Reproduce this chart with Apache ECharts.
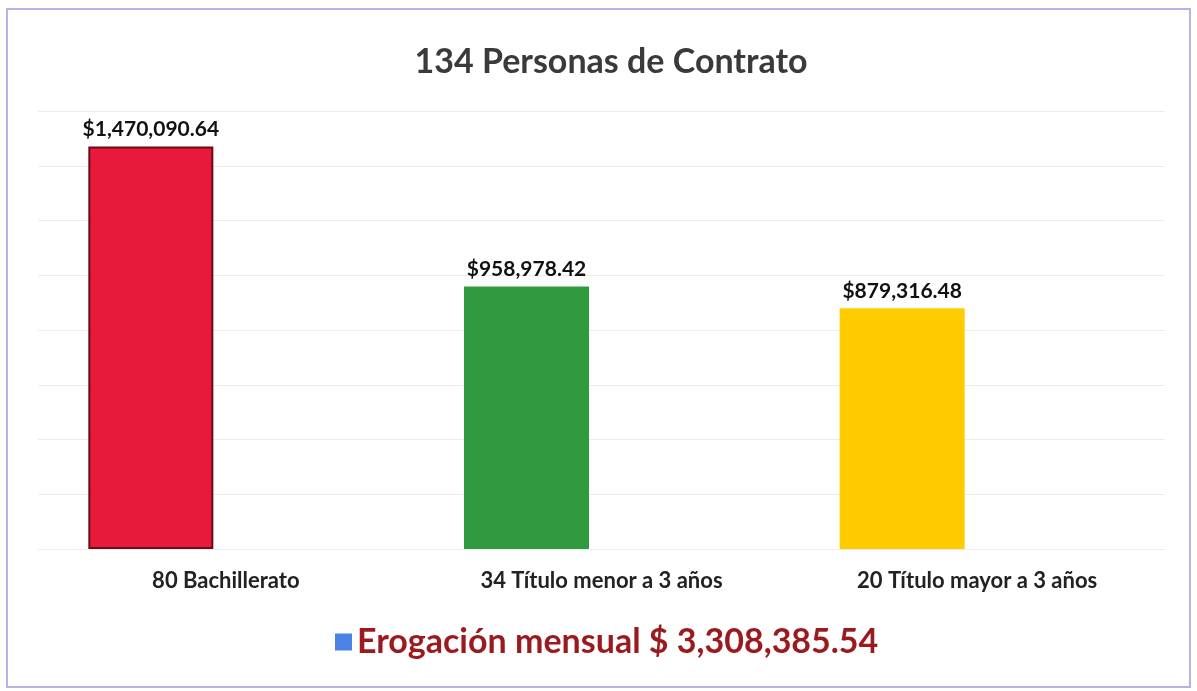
<!DOCTYPE html>
<html>
<head>
<meta charset="utf-8">
<script src="https://cdn.jsdelivr.net/npm/echarts@6/dist/echarts.min.js"></script>
<style>
  html, body { margin: 0; padding: 0; background: #fff; }
  #chart { width: 1197px; height: 691px; }
</style>
</head>
<body>
<div id="chart"></div>
<script>
var categories = ['80 Bachillerato', '34 Título menor a 3 años', '20 Título mayor a 3 años'];
var montos = [1470090.64, 958978.42, 879316.48];
var colores = ['#e8193b', '#2f9a3e', '#ffcc00'];
var serieNombre = 'Erogación mensual $ 3,308,385.54';

var chart = echarts.init(document.getElementById('chart'));

function formatoMoneda(v) {
    return '$' + v.toLocaleString('en-US', { minimumFractionDigits: 2, maximumFractionDigits: 2 });
}

var option = {
    backgroundColor: '#fff',
    textStyle: { fontFamily: 'Lato' },
    title: {
        text: '134 Personas de Contrato',
        top: 40,
        left: 606,
        textAlign: 'center',
        textStyle: { fontSize: 34, fontWeight: 'bold', color: '#3a3a3a', fontFamily: 'Lato' }
    },
    legend: {
        data: [serieNombre],
        top: 620,
        left: 330,
        icon: 'rect',
        itemWidth: 17,
        itemHeight: 17,
        itemGap: 10,
        textStyle: { fontSize: 34, fontWeight: 'bold', color: '#9a1a1e', fontFamily: 'Lato' }
    },
    grid: {
        left: 38,
        right: 32,
        top: 111,
        bottom: 142
    },
    xAxis: {
        type: 'category',
        data: categories,
        axisLine: { show: false },
        axisTick: { show: false },
        axisLabel: { margin: 21, fontSize: 22, color: '#222', fontWeight: 'bold' }
    },
    yAxis: {
        type: 'value',
        min: 0,
        max: 1600000,
        interval: 200000,
        axisLabel: { show: false },
        axisLine: { show: false },
        axisTick: { show: false },
        splitLine: { lineStyle: { color: '#ececec', width: 1 } }
    },
    graphic: [{
        type: 'rect',
        shape: { x: 7, y: 9, width: 1183, height: 678 },
        style: { fill: 'none', stroke: '#b9b2e4', lineWidth: 2 },
        silent: true
    }],
    series: [
        {
            name: serieNombre,
            type: 'bar',
            barWidth: 125,
            barGap: '20%',
            itemStyle: { color: '#4a82e6' },
            label: {
                show: true,
                position: 'top',
                distance: 7,
                fontSize: 21,
                fontWeight: 'bold',
                color: '#111',
                formatter: function (p) { return formatoMoneda(p.value); }
            },
            data: montos.map(function (v, i) {
                var estilo = { color: colores[i] };
                if (i === 0) {
                    estilo.borderColor = '#6e0a16';
                    estilo.borderWidth = 2;
                }
                return { value: v, itemStyle: estilo };
            })
        },
        {
            name: 'vacio',
            type: 'bar',
            barWidth: 125,
            data: ['-', '-', '-']
        }
    ]
};

chart.setOption(option);
</script>
</body>
</html>
